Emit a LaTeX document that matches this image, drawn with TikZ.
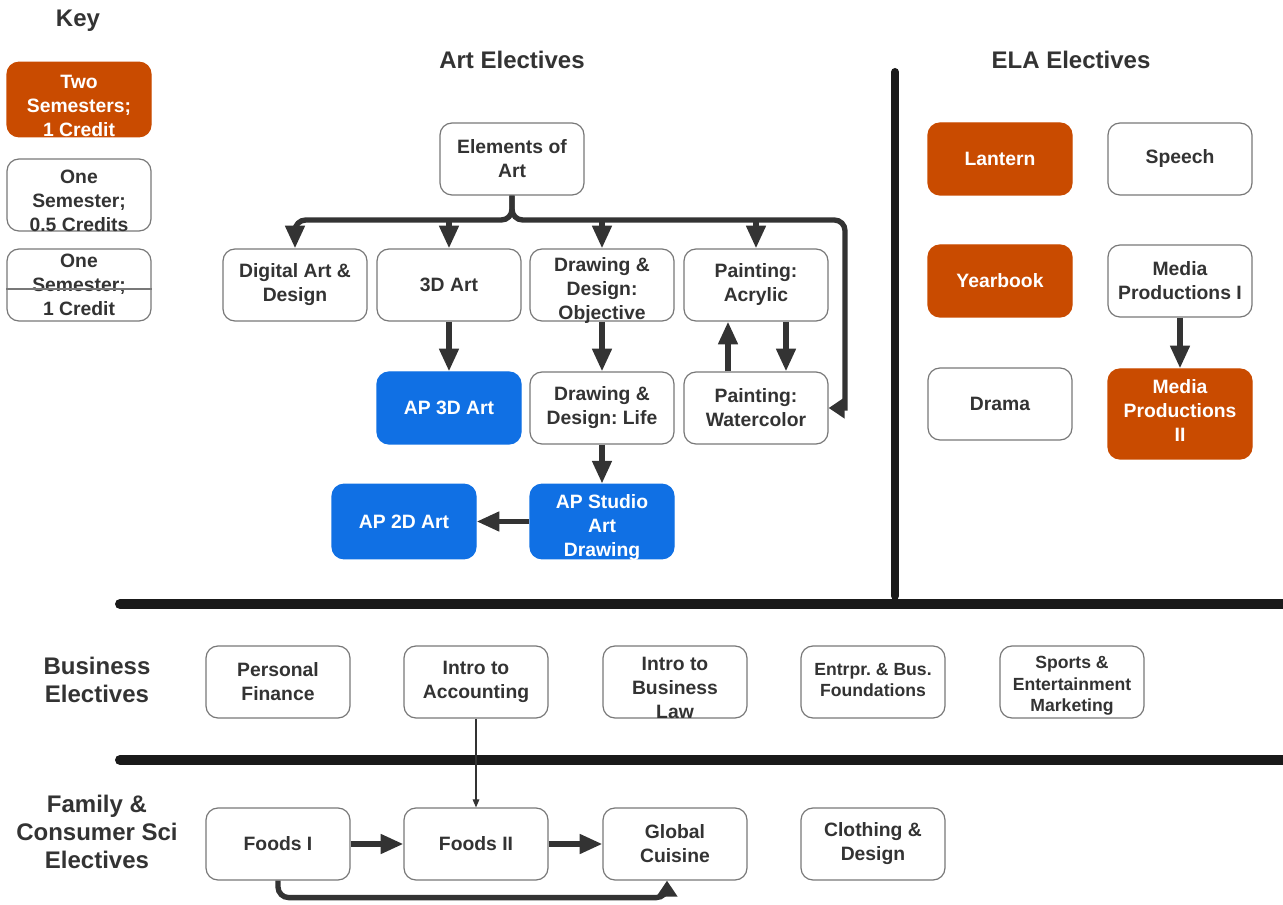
\documentclass[tikz,border=0pt]{standalone}
\usepackage{fontspec}
\setmainfont{Liberation Sans}
\usetikzlibrary{arrows.meta,calc}
\definecolor{orng}{RGB}{201,75,0}
\definecolor{blu}{RGB}{16,112,228}
\definecolor{txtc}{RGB}{51,51,51}
\definecolor{brd}{RGB}{120,120,120}
\definecolor{lnc}{RGB}{51,51,51}
\definecolor{sepc}{RGB}{26,26,26}
\frenchspacing
\newcommand\crs[5]{\node[#1] (#2) at (#3) {}; \node[#4] at (#2) {#5};}
\begin{document}
\begin{tikzpicture}[x=0.75pt,y=-0.75pt,
 box/.style={draw=brd,line width=0.9pt,rounded corners=9pt,minimum width=108pt,minimum height=54pt,inner sep=0pt,fill=white},
 obox/.style={box,fill=orng,draw=orng},
 bbox/.style={box,fill=blu,draw=blu},
 txt/.style={align=center,inner sep=0pt,font=\bfseries\fontsize{14.5}{18}\selectfont,text=txtc},
 wtxt/.style={txt,text=white},
 stxt/.style={txt,font=\bfseries\fontsize{13.2}{16}\selectfont},
 low/.style={yshift=-4.5pt},
 head/.style={font=\bfseries\fontsize{18}{21}\selectfont,text=txtc,align=center,inner sep=0pt},
 conn/.style={draw=lnc,line width=4pt,-{Triangle[length=17pt,width=14pt]}},
 shortconn/.style={draw=lnc,line width=4pt,-{Triangle[length=12pt,width=15pt]}},
 thinarrow/.style={draw=lnc,line width=0.8pt,-{Triangle[length=6pt,width=5pt]}},
 sepline/.style={draw=sepc,line width=7.5pt,line cap=round},
]
\useasboundingbox (0,0) rectangle (1283,905);
\clip (0,0) rectangle (1283,905);

% headings
\node[head] (hkey) at (78,21) {Key};
\node[head] (hart) at (512,60) {Art Electives};
\node[head] (hela) at (1071,60) {ELA Electives};
\node[head] (hbus) at (97,680) {Business\\Electives};
\node[head] (hfam) at (97,832) {Family \&\\Consumer Sci\\Electives};

% separators
\draw[sepline,line width=6pt] (895,72) -- (895,596);
\draw[sepline] (120,604) -- (1295,604);
\draw[sepline] (120,760) -- (1295,760);

% key
\crs{obox,minimum height=56pt}{k1}{79,99.5}{wtxt,low}{Two\\Semesters;\\1 Credit}
\crs{box}{k2}{79,195}{txt,low}{One\\Semester;\\0.5 Credits}
\crs{box}{k3}{79,285}{txt}{One\\Semester;\\1 Credit}
\draw[brd,line width=0.9pt] (k3.west |- 0,289) -- (k3.east |- 0,289);

% art
\crs{box}{el}{512,159}{txt}{Elements of\\Art}
\crs{box}{dig}{295,285}{txt}{Digital Art \&\\Design}
\crs{box}{td}{449,285}{txt}{3D Art}
\crs{box}{obj}{602,285}{txt,low}{Drawing \&\\Design:\\Objective}
\crs{box}{acr}{756,285}{txt}{Painting:\\Acrylic}
\crs{bbox}{ap3}{449,408}{wtxt}{AP 3D Art}
\crs{box}{life}{602,408}{txt}{Drawing \&\\Design: Life}
\crs{box}{water}{756,408}{txt}{Painting:\\Watercolor}
\crs{bbox,minimum height=56pt}{ap2}{404,521.5}{wtxt}{AP 2D Art}
\crs{bbox,minimum height=56pt}{aps}{602,521.5}{wtxt,low}{AP Studio\\Art\\Drawing}

% ELA
\crs{obox}{lan}{1000,159}{wtxt}{Lantern}
\crs{box}{sp}{1180,159}{txt}{Speech}
\crs{obox}{yb}{1000,281}{wtxt}{Yearbook}
\crs{box}{mp1}{1180,281}{txt}{Media\\Productions I}
\crs{box}{dr}{1000,404}{txt}{Drama}
\crs{obox,minimum height=67.5pt}{mp2}{1180,414}{wtxt,yshift=2.5pt}{Media\\Productions\\II}

% business
\crs{box}{pf}{278,682}{txt}{Personal\\Finance}
\crs{box}{acc}{476,682}{txt}{Intro to\\Accounting}
\crs{box}{law}{675,682}{txt,low}{Intro to\\Business\\Law}
\crs{box}{ent}{873,682}{stxt,yshift=1.5pt}{Entrpr. \& Bus.\\Foundations}
\crs{box}{spm}{1072,682}{stxt,yshift=-3pt}{Sports \&\\Entertainment\\Marketing}

% family
\crs{box}{f1}{278,844}{txt}{Foods I}
\crs{box}{f2}{476,844}{txt}{Foods II}
\crs{box}{gc}{675,844}{txt}{Global\\Cuisine}
\crs{box}{cl}{873,844}{txt}{Clothing \&\\Design}

% connectors
\coordinate (bus) at (512,220);
\coordinate (rc) at (845,220);
\draw[conn,rounded corners=8pt] (el.south) |- (bus -| dig.north) -- (dig.north);
\draw[conn] (bus -| td.north) -- (td.north);
\draw[conn] (bus -| obj.north) -- (obj.north);
\draw[conn] (bus -| acr.north) -- (acr.north);
\draw[shortconn] (el.south) [rounded corners=8pt] |- (rc) [sharp corners] -- (rc |- water.east) -- (water.east);
\draw[conn] (td.south) -- (ap3.north);
\draw[conn] (obj.south) -- (life.north);
\draw[conn] ($(water.north)+(-28,0)$) -- ($(acr.south)+(-28,0)$);
\draw[conn] ($(acr.south)+(30,0)$) -- ($(water.north)+(30,0)$);
\draw[conn] (life.south) -- (aps.north);
\draw[conn] (aps.west) -- (ap2.east);
\draw[conn] (mp1.south) -- (mp2.north);
\draw[thinarrow] (acc.south) -- (f2.north);
\draw[conn] (f1.east) -- (f2.west);
\draw[conn] (f2.east) -- (gc.west);
\draw[shortconn] (f1.south) [rounded corners=8pt] |- ($(gc.south)+(-8,17)$) [sharp corners] -- ($(gc.south)+(-8,0)$);
\end{tikzpicture}
\end{document}
